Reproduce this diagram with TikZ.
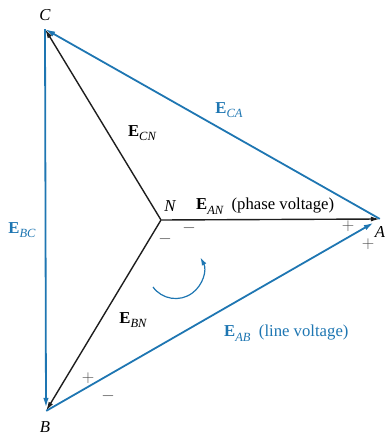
\documentclass[tikz,border=0pt]{standalone}
\usepackage{fontspec}
\setmainfont{Liberation Serif}
\usetikzlibrary{arrows.meta}
\definecolor{eblue}{RGB}{30,118,178}
\definecolor{eblack}{RGB}{30,30,30}
\newcommand\Evec[1]{\textbf{E}\raisebox{-0.28em}{\fontsize{12.5}{14}\selectfont\itshape #1}}
\begin{document}
\begin{tikzpicture}[x=1pt,y=-1pt,
  phase/.style={draw=eblack, line width=1.4pt, -{Latex[length=9pt,width=5pt]}},
  linev/.style={draw=eblue, line width=1.8pt, -{Latex[length=10pt,width=5.5pt]}},
  lbl/.style={font=\fontsize{16.7}{19}\selectfont, inner sep=0pt},
  ptlbl/.style={font=\fontsize{16.7}{19}\selectfont\itshape, inner sep=0pt},
  pt/.style={inner sep=0pt, minimum size=0pt},
  sign/.style={font=\fontsize{16}{19}\selectfont, text=eblack!80, inner sep=0pt}]
\useasboundingbox (0,0) rectangle (384,438);
\node[pt] (N) at (161,220) {};
\node[pt] (A) at (380,219) {};
\node[pt] (B) at (46,411) {};
\node[pt] (C) at (45,29) {};
% phase voltages
\draw[phase] (N) -- (A);
\draw[phase] (N) -- (C);
\draw[phase] (N) -- (B);
% line voltages
\draw[linev] (A) -- (C);
\draw[linev, shorten >=3pt] (C) -- (B);
\draw[linev, shorten >=7pt] (B) -- (A);
% rotation arrow
\draw[draw=eblue, line width=1.2pt, -{Latex[length=8pt,width=5pt]}] (153,287) arc[start angle=144, end angle=-28, radius=28];
% point labels
\node[ptlbl] (lC) at (45,15) {C};
\node[ptlbl] (lB) at (45,427) {B};
\node[ptlbl] (lA) at (380,232) {A};
\node[ptlbl] (lN) at (170,206) {N};
% vector labels
\node[lbl, anchor=west] (ean) at (196,206) {\Evec{AN} \ (phase voltage)};
\node[lbl] (ecn) at (142,133) {\Evec{CN}};
\node[lbl] (ebn) at (133,320) {\Evec{BN}};
\node[lbl, text=eblue] (eca) at (229,110) {\Evec{CA}};
\node[lbl, text=eblue] (ebc) at (22,230) {\Evec{BC}};
\node[lbl, text=eblue, anchor=west] (eab) at (224,333) {\Evec{AB} \ (line voltage)};
% polarity signs
\node[sign] (s1) at (165,239) {$-$};
\node[sign] (s2) at (189,228) {$-$};
\node[sign] (s3) at (348,226) {$+$};
\node[sign] (s4) at (368,244) {$+$};
\node[sign] (s5) at (88,378) {$+$};
\node[sign] (s6) at (108,396) {$-$};
\end{tikzpicture}
\end{document}
